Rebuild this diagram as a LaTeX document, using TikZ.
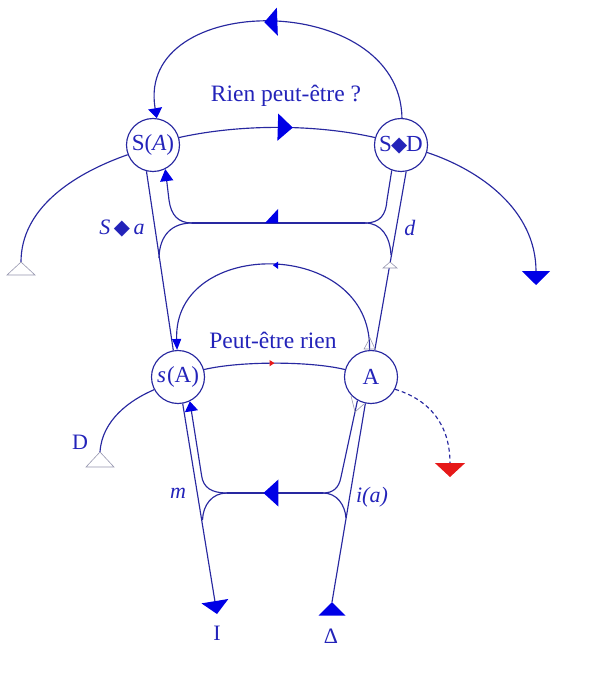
\documentclass[tikz,border=0pt]{standalone}
\usepackage{fontspec}
\setmainfont{Liberation Serif}
\newfontfamily\dejavu{DejaVu Sans}
\usetikzlibrary{arrows.meta,decorations.markings}
\definecolor{lineblue}{RGB}{40,40,160}
\definecolor{textblue}{RGB}{35,35,185}
\definecolor{tipblue}{RGB}{0,0,230}
\definecolor{tipred}{RGB}{230,25,25}
\definecolor{hollowgrey}{RGB}{150,150,175}
\newcommand{\dmd}{{\dejavu\fontsize{21}{21}\selectfont ◆}}
\begin{document}
\begin{tikzpicture}[x=1pt,y=-1pt,
 ln/.style={draw=lineblue,line width=1.15pt},
 circ/.style={circle,draw=lineblue,line width=1.15pt,minimum size=53pt,inner sep=0pt,text=textblue,font=\fontsize{23}{26}\selectfont},
 lbl/.style={text=textblue,font=\fontsize{22}{26}\selectfont,inner sep=0pt},
 title/.style={text=textblue,font=\fontsize{23.5}{28}\selectfont,inner sep=0pt},
 hollowtri/.style={draw=hollowgrey,line width=0.6pt,fill=white},
 marr/.style 2 args={postaction={decorate},decoration={markings,mark=at position #1 with {\arrow{#2}}}},
]
\useasboundingbox (0,0) rectangle (599,684);
% nodes
\node[circ] (SA) at (153,145) {S(\textit{A})};
\node[circ] (SD) at (401,145) {S\kern-1pt\dmd\kern-1pt D};
\node[circ] (sA) at (178,377) {\textit{s}\kern1pt(A)};
\node[circ] (A) at (371,377) {A};
% free ends
\coordinate (TL) at (21,262);
\coordinate (TR) at (536,285);
\coordinate (Dl) at (100,452);
\coordinate (Red) at (450,477);
\coordinate (Ie) at (217,614);
\coordinate (De) at (332,602);
\coordinate (UBl) at (192,223);
\coordinate (UBr) at (365,223);
\coordinate (UJl) at (159,258);
\coordinate (UJr) at (391,255);
\coordinate (LBl) at (227,493);
\coordinate (LBr) at (323,493);
\coordinate (LJl) at (202.5,520);
\coordinate (LJr) at (346,518);
% top arcs
\draw[ln, -{Triangle[length=10pt,width=14pt,color=tipblue]}, marr={0.53}{Triangle[length=13pt,width=28pt,color=tipblue]}] (SD.88) .. controls (400,-10) and (135,-10) .. (SA.82);
\draw[ln, marr={0.58}{Triangle[length=15pt,width=27pt,color=tipblue]}] (SA.16) .. controls (240,124) and (315,124) .. (SD.164);
% side curves top
\draw[ln] (SA.-159) .. controls (70,175) and (21,210) .. (TL);
\draw[hollowtri] (TL) -- (7,275) -- (35,275) -- cycle;
\draw[ln, -{Triangle[length=14pt,width=28pt,color=tipblue]}] (SD.-16) .. controls (480,170) and (536,210) .. (TR);
% long lines
\draw[ln] (SA.-104) -- (sA.100);
\draw[ln] (SD.-79) -- (A.82);
% upper bridge
\draw[ln, {Triangle[length=12pt,width=13pt,color=tipblue]}-] (SA.-63) -- (169,200) .. controls (171,215) and (178,223) .. (UBl);
\draw[ln] (UBl) -- (UBr);
\fill[tipblue] (265,223) -- (278,209) -- (278,223) -- cycle;
\draw[ln] (UBl) .. controls (172,223) and (159.5,235) .. (UJl);
\draw[ln] (UBr) .. controls (380,223) and (386,215) .. (387,200) -- (SD.-110);
\draw[ln] (UBr) .. controls (381,223) and (390,236) .. (UJr);
\draw[hollowtri] (390,262) -- (383,268) -- (397,268) -- cycle;
% lower arcs
\draw[ln, marr={0.5}{Triangle[length=5pt,width=6pt,color=tipred]}] (sA.16) .. controls (240,361) and (310,361) .. (A.164);
\draw[ln, -{Triangle[length=11pt,width=9pt,color=tipblue]}, marr={0.5}{Triangle[length=5pt,width=7pt,color=tipblue]}] (A.93) .. controls (372,237) and (173,237) .. (sA.92);
\draw[hollowtri, fill=none] (364,349) -- (375,349) -- (370,338) -- cycle;
% D curve and dashed
\draw[ln] (sA.-152) .. controls (130,400) and (102,420) .. (Dl);
\draw[hollowtri] (Dl) -- (86,467) -- (114,467) -- cycle;
\draw[ln, dash pattern=on 4pt off 3pt, -{Triangle[length=14pt,width=30pt,color=tipred]}] (A.-27) .. controls (430,400) and (450,425) .. (Red);
% lower lines
\draw[ln, -{Triangle[length=13pt,width=27pt,color=tipblue]}] (sA.-80) -- (Ie);
\draw[ln] (A.-102) -- (De);
\fill[tipblue] (De) -- (318.5,615.5) -- (345.5,615.5) -- cycle;
% lower bridge
\draw[ln, {Triangle[length=10pt,width=13pt,color=tipblue]}-] (sA.-64) -- (201.5,475) .. controls (203,488) and (212,493) .. (LBl);
\draw[ln, marr={0.62}{Triangle[length=15pt,width=27pt,color=tipblue]}] (LBr) -- (LBl);
\draw[ln] (LBl) .. controls (212,493) and (203,505) .. (LJl);
\draw[ln] (A.-120) -- (341,477) .. controls (339,488) and (333,493) .. (LBr);
\draw[ln] (LBr) .. controls (337,493) and (345,505) .. (LJr);
\draw[hollowtri, fill=none] (351,396) -- (355,412) -- (364,404);
% labels
\node[title] (t1) at (286,96) {Rien peut-être ?};
\node[title] (t2) at (273,340) {Peut-être rien};
\node[lbl] (lSa) at (122,229) {\textit{S}\,\dmd\,\textit{a}};
\node[lbl] (ld) at (410,228) {\textit{d}};
\node[lbl] (lm) at (178,493) {\textit{m}};
\node[lbl] (lia) at (372,497) {\textit{i(a)}};
\node[lbl] (lD) at (80,442) {D};
\node[lbl] (lI) at (217,633) {I};
\node[lbl] (lDelta) at (331,636) {Δ};
\end{tikzpicture}
\end{document}
